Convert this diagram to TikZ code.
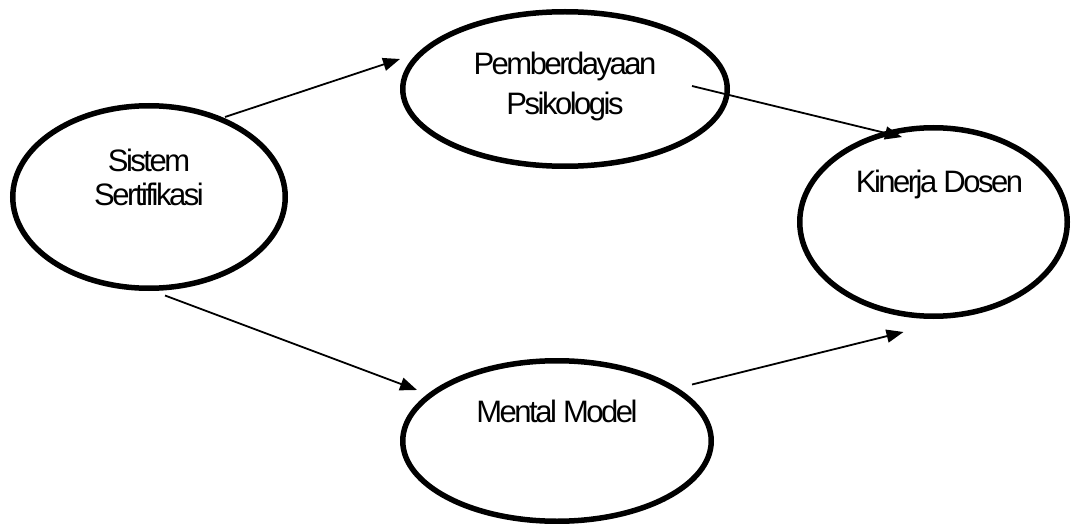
\documentclass[tikz,border=0pt]{standalone}
\usepackage{fontspec}
\setmainfont{Liberation Sans}[LetterSpace=-8]
\usepackage{tikz}
\usetikzlibrary{arrows.meta,positioning,calc,shapes.geometric}

\begin{document}
\begin{tikzpicture}[x=1pt, y=-1pt, >={Triangle[length=17pt,width=13pt]},
  variabel/.style={draw, ellipse, line width=5.5pt, inner sep=0pt},
  teks/.style={font=\fontsize{31}{34}\selectfont, align=center, inner sep=0pt}]
\useasboundingbox (0,0) rectangle (1071,524);
\node[variabel, minimum width=272.5pt, minimum height=182.5pt,
  label={[teks, yshift=20pt]center:{Sistem\\Sertifikasi}}] (ss) at (149,197) {};
\node[variabel, minimum width=324.5pt, minimum height=154.5pt,
  label={[teks, font=\fontsize{31}{40}\selectfont, yshift=3pt]center:{Pemberdayaan\\Psikologis}}] (pp) at (565,89) {};
\node[variabel, minimum width=267.5pt, minimum height=188.5pt,
  label={[teks, xshift=6pt, yshift=38pt]center:{Kinerja Dosen}}] (kd) at (933.5,222) {};
\node[variabel, minimum width=308.5pt, minimum height=160.5pt,
  label={[teks, yshift=29.5pt]center:{Mental Model}}] (mm) at (557,441) {};
% panah antar variabel
\draw[->, line width=1.8pt] ($(ss.center)+(76,-80)$) -- ($(pp.center)+(-165,-30)$);
\draw[->, line width=1.8pt] ($(pp.center)+(127,-3)$) -- ($(kd.center)+(-31.5,-85)$);
\draw[->, line width=1.8pt] ($(ss.center)+(16,98.5)$) -- ($(mm.center)+(-140,-51)$);
\draw[->, line width=1.8pt] ($(mm.center)+(135,-56.5)$) -- ($(kd.center)+(-30,110)$);
\end{tikzpicture}
\end{document}
